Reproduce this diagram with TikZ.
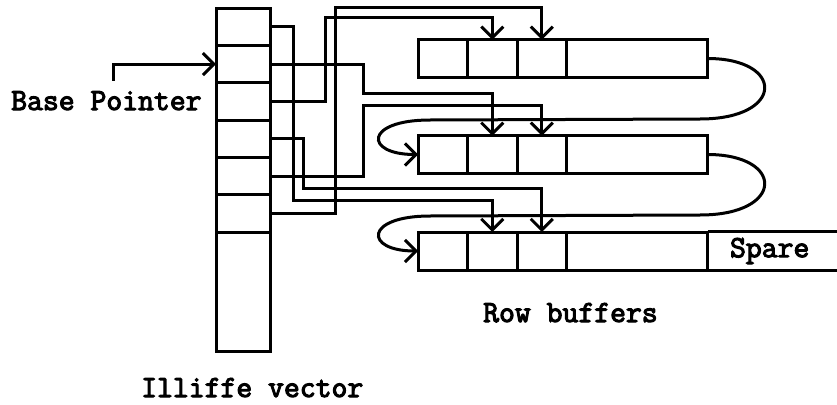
\documentclass[tikz,border=0pt]{standalone}
\usepackage{fontspec}
\setmonofont[AutoFakeBold=3.5]{Latin Modern Mono}
\usepackage{tikz}
\usetikzlibrary{arrows.meta,positioning}
\tikzset{
  vecbox/.style={draw,line width=3pt,inner sep=0pt,outer sep=0pt,
    minimum width=54pt,minimum height=37.33pt},
  rowbox/.style={draw,line width=3pt,inner sep=0pt,outer sep=0pt,
    minimum width=49.5pt,minimum height=37.5pt},
  widebox/.style={rowbox,minimum width=141pt},
  ptrarrow/.style={-{Straight Barb[length=11pt,width=22pt]},line width=3pt},
  linkline/.style={line width=3pt},
  figurelabel/.style={font=\ttfamily\bfseries\fontsize{30.8}{34}\selectfont,inner sep=0pt}
}
\begin{document}
\begin{tikzpicture}[x=1pt,y=-1pt]
  \useasboundingbox (0,0) rectangle (837,404);
  % Illiffe vector
  \node[vecbox] (v1) at (243,26.7) {};
  \node[vecbox,below=0pt of v1] (v2) {};
  \node[vecbox,below=0pt of v2] (v3) {};
  \node[vecbox,below=0pt of v3] (v4) {};
  \node[vecbox,below=0pt of v4] (v5) {};
  \node[vecbox,below=0pt of v5] (v6) {};
  \node[vecbox,below=0pt of v6,minimum height=119pt] (v7) {};
  % row buffers
  \node[rowbox] (r1c1) at (442.75,58.5) {};
  \node[rowbox,right=0pt of r1c1] (r1c2) {};
  \node[rowbox,right=0pt of r1c2] (r1c3) {};
  \node[widebox,right=0pt of r1c3] (r1c4) {};
  \node[rowbox] (r2c1) at (442.75,154.5) {};
  \node[rowbox,right=0pt of r2c1] (r2c2) {};
  \node[rowbox,right=0pt of r2c2] (r2c3) {};
  \node[widebox,right=0pt of r2c3] (r2c4) {};
  \node[rowbox,minimum height=38pt] (r3c1) at (442.75,251) {};
  \node[rowbox,minimum height=38pt,right=0pt of r3c1] (r3c2) {};
  \node[rowbox,minimum height=38pt,right=0pt of r3c2] (r3c3) {};
  \node[widebox,minimum height=38pt,right=0pt of r3c3] (r3c4) {};
  \node[figurelabel,minimum width=131pt,minimum height=38pt,
        right=0pt of r3c4] (spare) {Spare\hspace*{7pt}};
  \draw[linkline] (spare.north west) -- (spare.north east);
  \draw[linkline] (spare.south west) -- (spare.south east);
  % labels
  \node[figurelabel,anchor=base west] (bp) at (11,110) {Base Pointer};
  \node[figurelabel,anchor=base west] (rowlabel) at (483,322) {Row buffers};
  \node[figurelabel,anchor=base west] (veclabel) at (141,397) {Illiffe vector};
  \draw[ptrarrow] ([xshift=7pt,yshift=10pt]bp.north) |- (v2.west);
  % pointers from the vector
  \draw[ptrarrow] (v1.east) -| (293,200) -| (r3c2.north);
  \draw[ptrarrow] (v2.east) -| (363,93) -| (r2c2.north);
  \draw[ptrarrow] (v3.east) -| (325,18) -| (r1c2.north);
  \draw[ptrarrow] (v4.east) -| (303,188) -| (r3c3.north);
  \draw[ptrarrow] (v5.east) -| (363,105) -| (r2c3.north);
  \draw[ptrarrow] (v6.east) -| (335,8) -| (r1c3.north);
  % row links
  \draw[ptrarrow] (r1c4.east) .. controls (785,58.5) and (785,119) .. (700,119)
    -- (430,120) .. controls (364,120) and (364,154.5) .. (r2c1.west);
  \draw[ptrarrow] (r2c4.east) .. controls (785,154.5) and (785,215) .. (700,215)
    -- (430,216) .. controls (364,216) and (364,251) .. (r3c1.west);
\end{tikzpicture}
\end{document}
